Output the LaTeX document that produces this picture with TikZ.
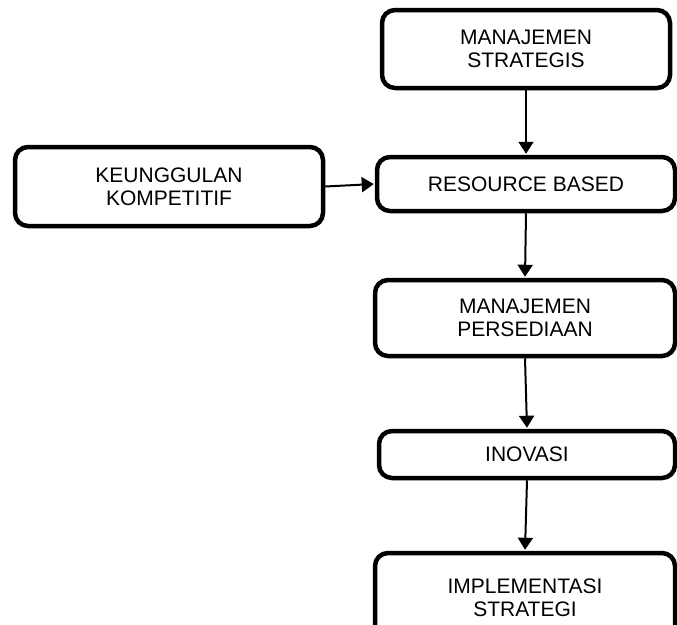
\documentclass[tikz,border=0pt]{standalone}
\usepackage{fontspec}
\setmainfont{Liberation Sans}
\usetikzlibrary{arrows.meta}
\begin{document}
\begin{tikzpicture}[x=1pt,y=-1pt,
  box/.style={draw=black, line width=4.5pt, rounded corners=13pt, align=center,
    inner sep=0pt, font=\fontsize{21}{23}\selectfont},
  arr/.style={draw=black, line width=2pt, -{Triangle[length=12pt,width=15pt]}, shorten >=1pt}]
\useasboundingbox (0,0) rectangle (677,624);
\clip (0,0) rectangle (677,624);
\fill[white] (0,0) rectangle (677,624);
\node[box, minimum width=288pt, minimum height=78pt] (ms) at (526,49) {MANAJEMEN\\STRATEGIS};
\node[box, minimum width=308pt, minimum height=79pt] (kk) at (169,186.5) {KEUNGGULAN\\KOMPETITIF};
\node[box, minimum width=298pt, minimum height=54pt] (rb) at (526,184) {RESOURCE BASED};
\node[box, minimum width=300pt, minimum height=76pt] (mp) at (525,318) {MANAJEMEN\\PERSEDIAAN};
\node[box, minimum width=296pt, minimum height=47pt] (ino) at (527,454.5) {INOVASI};
\node[box, minimum width=300pt, minimum height=90pt] (imp) at (525,598) {IMPLEMENTASI\\STRATEGI};
\draw[arr] (ms.south) -- (rb.north);
\draw[arr] (kk.east) -- (rb.west);
\draw[arr] (rb.south) -- (mp.north);
\draw[arr] (mp.south) -- (ino.north);
\draw[arr] (ino.south) -- (imp.north);
\end{tikzpicture}
\end{document}
